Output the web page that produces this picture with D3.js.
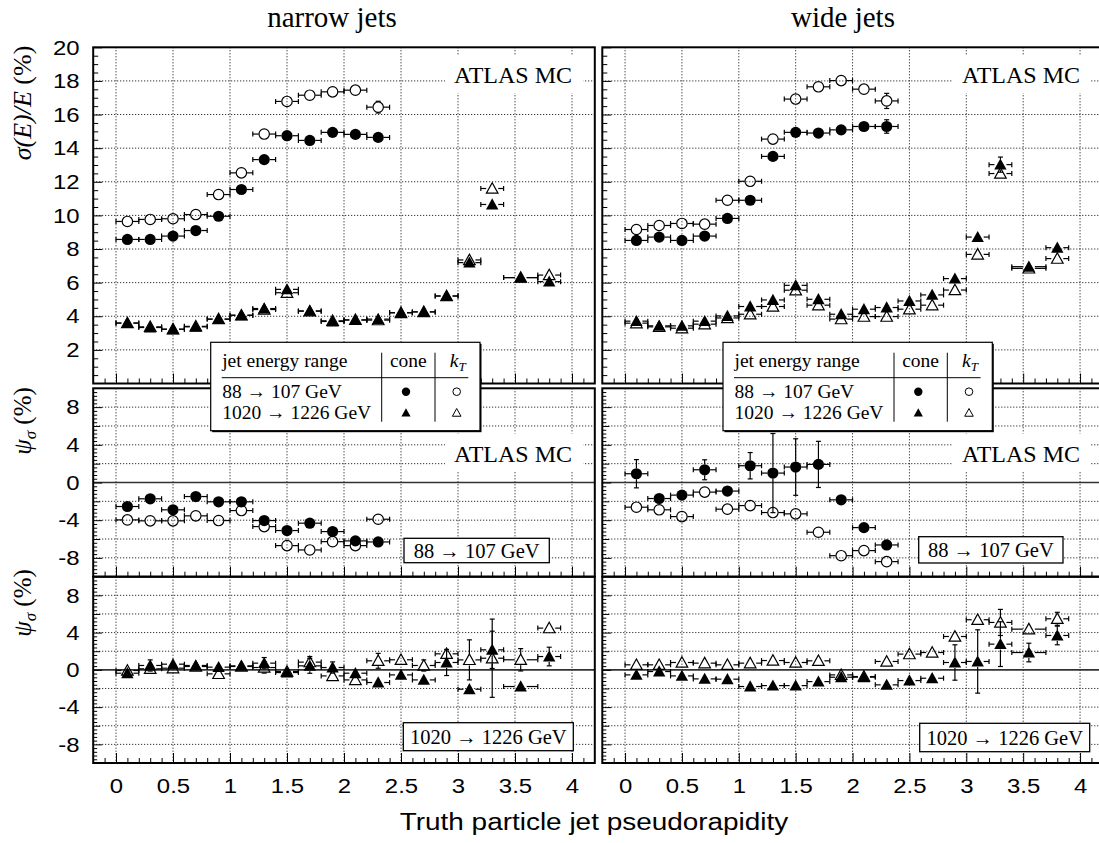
<!DOCTYPE html>
<html><head><meta charset="utf-8">
<script src="https://cdn.jsdelivr.net/npm/d3@7"></script>
<style>body{margin:0;background:#fff}svg{display:block}</style>
</head><body>
<svg id="c" width="1099" height="843"></svg>
<script>
// ---------------- DATA ----------------
const eta     = [0.1,0.3,0.5,0.7,0.9,1.1,1.3,1.5,1.7,1.9,2.1,2.3,2.5,2.7,2.9,3.1,3.3,3.55,3.8];
const etaHalf = [0.1,0.1,0.1,0.1,0.1,0.1,0.1,0.1,0.1,0.1,0.1,0.1,0.1,0.1,0.1,0.1,0.1,0.15,0.1];
const columnTitles = ["narrow jets","wide jets"];
const topTicks = [2,4,6,8,10,12,14,16,18,20];
const psiTicks = [-8,-4,0,4,8];
const xTicks = [0,0.5,1,1.5,2,2.5,3,3.5,4];

// resolution sigma(E)/E (%) : narrow jets
const narrowConeLow    = [8.57,8.57,8.77,9.10,9.95,11.54,13.32,14.74,14.46,14.94,14.82,14.64];
const narrowConeLowErr = [0.1,0.1,0.1,0.1,0.1,0.1,0.1,0.1,0.1,0.1,0.1,0.25];
const narrowKtLow      = [9.64,9.76,9.80,10.05,11.24,12.53,14.84,16.78,17.15,17.35,17.45,16.44];
const narrowKtLowErr   = [0.1,0.1,0.1,0.1,0.1,0.1,0.1,0.1,0.1,0.1,0.1,0.35];
const narrowConeHigh    = [3.59,3.33,3.23,3.37,3.83,4.06,4.46,5.60,4.32,3.69,3.77,3.83,4.22,4.26,5.21,7.19,10.65,6.30,6.06];
const narrowConeHighErr = [0.1,0.1,0.1,0.1,0.1,0.1,0.1,0.1,0.1,0.1,0.1,0.1,0.1,0.1,0.1,0.1,0.25,0.1,0.1];
const narrowKtHigh      = [3.60,3.37,3.23,3.40,3.83,4.06,4.40,5.40,4.30,3.73,3.79,3.77,4.20,4.26,5.20,7.35,11.60,6.30,6.45];
const narrowKtHighErr   = [0.1,0.1,0.1,0.1,0.1,0.1,0.1,0.1,0.1,0.1,0.1,0.1,0.1,0.1,0.1,0.1,0.3,0.1,0.1];

// resolution sigma(E)/E (%) : wide jets
const wideConeLow    = [8.51,8.71,8.51,8.77,9.82,10.90,13.51,14.94,14.90,15.09,15.29,15.29];
const wideConeLowErr = [0.1,0.1,0.1,0.1,0.1,0.1,0.1,0.1,0.1,0.1,0.15,0.4];
const wideKtLow      = [9.16,9.40,9.52,9.48,10.90,12.03,14.54,16.92,17.65,18.02,17.51,16.81];
const wideKtLowErr   = [0.1,0.1,0.1,0.1,0.1,0.1,0.1,0.15,0.1,0.2,0.1,0.45];
const wideConeHigh    = [3.71,3.43,3.43,3.71,4.02,4.58,4.97,5.84,5.01,4.12,4.42,4.52,4.91,5.27,6.24,8.71,13.02,6.95,8.08];
const wideConeHighErr = [0.1,0.1,0.1,0.1,0.1,0.1,0.1,0.1,0.1,0.1,0.1,0.1,0.1,0.1,0.1,0.1,0.45,0.1,0.1];
const wideKtHigh      = [3.59,3.37,3.29,3.53,3.90,4.12,4.58,5.55,4.66,3.83,3.98,3.98,4.42,4.66,5.56,7.68,12.49,6.85,7.43];
const wideKtHighErr   = [0.1,0.1,0.1,0.1,0.1,0.1,0.1,0.1,0.1,0.1,0.1,0.1,0.1,0.1,0.1,0.1,0.3,0.1,0.1];

// psi_sigma (%) 88 -> 107 GeV
const psiNarrowConeLow    = [-2.55,-1.73,-2.90,-1.49,-2.05,-2.05,-4.04,-5.10,-4.32,-5.21,-6.20,-6.31];
const psiNarrowConeLowErr = [0.2,0.2,0.2,0.2,0.2,0.2,0.2,0.2,0.2,0.2,0.2,0.2];
const psiNarrowKtLow      = [-3.97,-4.07,-4.07,-3.54,-4.04,-2.98,-4.68,-6.70,-7.16,-6.28,-6.70,-3.90];
const psiNarrowKtLowErr   = [0.2,0.2,0.2,0.2,0.2,0.2,0.2,0.2,0.2,0.2,0.2,0.2];
const psiWideConeLow      = [0.93,-1.70,-1.34,1.35,-0.91,1.78,1.00,1.64,1.92,-1.84,-4.79,-6.63];
const psiWideConeLowErr   = [1.5,0.3,0.3,1.06,0.3,1.4,4.2,3.0,2.45,0.3,0.3,0.3];
const psiWideKtLow        = [-2.62,-2.90,-3.62,-1.02,-2.83,-2.45,-3.19,-3.33,-5.28,-7.77,-7.23,-8.40];
const psiWideKtLowErr     = [0.2,0.2,0.2,0.2,0.2,0.2,0.2,0.2,0.2,0.2,0.2,0.2];

// psi_sigma (%) 1020 -> 1226 GeV
const psiNarrowConeHigh    = [-0.36,0.47,0.61,0.47,0.29,0.43,0.72,-0.29,0.43,0.25,-0.36,-1.36,-0.54,-1.08,0.79,-2.08,2.15,-1.79,1.43];
const psiNarrowConeHighErr = [0.3,0.6,0.4,0.3,0.4,0.3,0.6,0.3,0.8,0.6,0.4,0.3,0.4,0.3,1.4,0.4,2.0,0.4,1.0];
const psiNarrowKtHigh      = [-0.07,0.11,0.18,0.36,-0.43,0.36,0.25,-0.18,0.83,-0.65,-1.08,0.97,1.08,0.47,1.72,1.07,1.25,1.08,4.48];
const psiNarrowKtHighErr   = [0.3,0.3,0.4,0.3,0.3,0.3,0.6,0.3,0.6,0.4,0.3,0.8,0.3,0.6,0.5,2.15,4.2,1.2,0.3];
const psiWideConeHigh      = [-0.54,-0.18,-0.65,-0.97,-1.00,-1.79,-1.69,-1.69,-1.26,-0.79,-0.79,-1.61,-1.15,-0.90,0.79,0.90,2.76,1.86,3.69];
const psiWideConeHighErr   = [0.3,0.3,0.3,0.3,0.3,0.3,0.3,0.3,0.3,0.3,0.3,0.3,0.3,0.3,1.9,3.4,2.4,1.0,1.0];
const psiWideKtHigh        = [0.54,0.54,0.79,0.72,0.54,0.72,1.00,0.79,0.97,-0.54,-0.72,0.90,1.69,1.86,3.58,5.38,5.09,4.37,5.48];
const psiWideKtHighErr     = [0.3,0.3,0.3,0.3,0.3,0.3,0.3,0.5,0.4,0.3,0.3,0.3,0.4,0.3,0.3,0.3,1.4,0.3,0.7];

const legendRows = ["88 \u2192 107 GeV","1020 \u2192 1226 GeV"];
const rangeLabels = ["88 \u2192 107 GeV","1020 \u2192 1226 GeV"];

// ---------------- LAYOUT ----------------
const SANS = "'Liberation Sans', Arial, sans-serif";
const SERIF = "'Liberation Serif', 'Times New Roman', serif";
const SX = 1.14; // horizontal stretch of sans labels
const svg = d3.select('#c');
svg.append('rect').attr('width',1099).attr('height',843).attr('fill','#fff');

const cols = [{x0:93.2, x1:594.8}, {x0:602.3, x1:1102.8}];
const rows = {
  top:{y0:47.3, y1:383.5, dom:[0,20]},
  mid:{y0:388.3, y1:576.7, dom:[-10,10]},
  bot:{y0:576.7, y1:763, dom:[-10,10]}
};

function errSeries(g, x, y, xs, hs, vals, errs, shape, filled) {
  const gap = shape === 'circle' ? 5.5 : 6;
  const gapV = 5.5;
  const cap = 2.5;
  const eg = g.append('g').attr('stroke','#000').attr('stroke-width',1.2).attr('fill','none');
  vals.forEach((v,i) => {
    const cx = x(xs[i]), cy = y(v);
    const a = x(xs[i]-hs[i]), b = x(xs[i]+hs[i]);
    if (cx-gap > a) eg.append('line').attr('x1',a).attr('x2',cx-gap).attr('y1',cy).attr('y2',cy);
    if (cx+gap < b) eg.append('line').attr('x1',cx+gap).attr('x2',b).attr('y1',cy).attr('y2',cy);
    eg.append('line').attr('x1',a).attr('x2',a).attr('y1',cy-cap).attr('y2',cy+cap);
    eg.append('line').attr('x1',b).attr('x2',b).attr('y1',cy-cap).attr('y2',cy+cap);
    const e = errs[i];
    const t = y(v+e), bt = y(v-e);
    if (cy - t > gapV) {
      eg.append('line').attr('x1',cx).attr('x2',cx).attr('y1',t).attr('y2',cy-gapV);
      eg.append('line').attr('x1',cx).attr('x2',cx).attr('y1',cy+gapV).attr('y2',bt);
      eg.append('line').attr('x1',cx-cap).attr('x2',cx+cap).attr('y1',t).attr('y2',t);
      eg.append('line').attr('x1',cx-cap).attr('x2',cx+cap).attr('y1',bt).attr('y2',bt);
    }
  });
  const mg = g.append('g');
  vals.forEach((v,i) => {
    const cx = x(xs[i]), cy = y(v);
    if (shape === 'circle') {
      mg.append('circle').attr('cx',cx).attr('cy',cy).attr('r', filled?5.6:5.2)
        .attr('fill', filled?'#000':'none').attr('stroke','#000').attr('stroke-width', filled?0:1.2);
    } else {
      mg.append('path').attr('d', triPath(cx, cy, filled?6.2:5.8))
        .attr('fill', filled?'#000':'none').attr('stroke','#000').attr('stroke-width', filled?0:1.2);
    }
  });
}
function triPath(cx, cy, s) {
  return `M${cx},${cy-s} L${cx+s},${cy+s*0.8} L${cx-s},${cy+s*0.8} Z`;
}

function drawPad(ci, rowKey, showXLabels) {
  const col = cols[ci], row = rows[rowKey];
  const x = d3.scaleLinear().domain([-0.2,4.2]).range([col.x0,col.x1]);
  const y = d3.scaleLinear().domain(row.dom).range([row.y1,row.y0]);
  const g = svg.append('g');
  const isTop = rowKey === 'top';
  // grid
  const gridY = isTop ? [2,4,6,8,10,12,14,16,18] : [-8,-6,-4,-2,2,4,6,8];
  g.append('g').selectAll('line').data(xTicks).join('line')
    .attr('x1',d=>x(d)).attr('x2',d=>x(d)).attr('y1',row.y0).attr('y2',row.y1)
    .attr('stroke','#000').attr('stroke-width',1).attr('stroke-dasharray','1,2');
  g.append('g').selectAll('line').data(gridY).join('line')
    .attr('x1',col.x0).attr('x2',col.x1).attr('y1',d=>y(d)).attr('y2',d=>y(d))
    .attr('stroke','#000').attr('stroke-width',1).attr('stroke-dasharray','1,2');
  if (!isTop) {
    g.append('line').attr('x1',col.x0).attr('x2',col.x1).attr('y1',y(0)).attr('y2',y(0))
      .attr('stroke','#333').attr('stroke-width',1.6);
  }
  // x axis ticks (inward)
  const xMinor = d3.range(-1,42).map(i=>i/10).filter(v => Math.round(v*10)%5 !== 0);
  const ax = g.append('g').attr('transform',`translate(0,${row.y1})`)
    .call(d3.axisBottom(x).tickValues(xTicks).tickSizeInner(-10).tickSizeOuter(0).tickPadding(15)
      .tickFormat(showXLabels ? (d=>String(d)) : ''));
  ax.select('.domain').remove();
  ax.attr('font-family',SANS).attr('font-size',21);
  ax.selectAll('.tick text').attr('transform',`scale(${SX},1)`).attr('fill','#000');
  const axm = g.append('g').attr('transform',`translate(0,${row.y1})`)
    .call(d3.axisBottom(x).tickValues(xMinor).tickSizeInner(-5).tickSizeOuter(0).tickFormat(''));
  axm.select('.domain').remove();
  // y axis ticks
  let major, minor;
  if (isTop) {
    major = topTicks;
    minor = d3.range(1,40).map(i=>i/2).filter(v => v%2 !== 0);
  } else {
    major = psiTicks;
    minor = d3.range(-25,26).filter(i => i%5 !== 0).map(i=>i*0.4);
    const med = [-6,-2,2,6];
    const aym = g.append('g').attr('transform',`translate(${col.x0},0)`)
      .call(d3.axisLeft(y).tickValues(med).tickSizeInner(-7).tickSizeOuter(0).tickFormat(''));
    aym.select('.domain').remove();
  }
  const ay = g.append('g').attr('transform',`translate(${col.x0},0)`)
    .call(d3.axisLeft(y).tickValues(major).tickSizeInner(-9).tickSizeOuter(0).tickPadding(12)
      .tickFormat(ci===0 ? (d=>String(d)) : ''));
  ay.select('.domain').remove();
  ay.attr('font-family',SANS).attr('font-size',21);
  ay.selectAll('.tick text').attr('transform',`scale(${SX},1)`).attr('fill','#000');
  const ayn = g.append('g').attr('transform',`translate(${col.x0},0)`)
    .call(d3.axisLeft(y).tickValues(minor).tickSizeInner(isTop?-5:-4).tickSizeOuter(0).tickFormat(''));
  ayn.select('.domain').remove();
  return {g, x, y, col, row};
}

function atlasLabel(p, baseline) {
  const t = p.g.append('text').attr('x',p.x(4)).attr('y',baseline).attr('text-anchor','end')
    .attr('font-family',SERIF).attr('font-size',24).attr('fill','#000').text('ATLAS MC');
  const w = t.node().getComputedTextLength();
  p.g.insert('rect', () => t.node()).attr('x',p.x(4)-w-9).attr('y',baseline-28).attr('width',w+20).attr('height',38).attr('fill','#fff');
}
function rangeBox(p, bx, by, bw, bh, label) {
  p.g.append('rect').attr('x',bx).attr('y',by).attr('width',bw).attr('height',bh)
    .attr('fill','#fff').attr('stroke','#000').attr('stroke-width',1.3);
  p.g.append('text').attr('x',bx+bw/2).attr('y',by+bh/2+7).attr('text-anchor','middle')
    .attr('font-family',SERIF).attr('font-size',20.5).attr('fill','#000').text(label);
}
function frame(p) {
  p.g.append('rect').attr('x',p.col.x0).attr('y',p.row.y0).attr('width',p.col.x1-p.col.x0).attr('height',p.row.y1-p.row.y0)
    .attr('fill','none').attr('stroke','#000').attr('stroke-width',2);
}

const etaLow = eta.slice(0,12), halfLow = etaHalf.slice(0,12);

// --- top pads
const tl = drawPad(0,'top',false);
atlasLabel(tl, 83);
errSeries(tl.g, tl.x, tl.y, eta, etaHalf, narrowConeHigh, narrowConeHighErr, 'tri', true);
errSeries(tl.g, tl.x, tl.y, eta, etaHalf, narrowKtHigh, narrowKtHighErr, 'tri', false);
errSeries(tl.g, tl.x, tl.y, etaLow, halfLow, narrowConeLow, narrowConeLowErr, 'circle', true);
errSeries(tl.g, tl.x, tl.y, etaLow, halfLow, narrowKtLow, narrowKtLowErr, 'circle', false);
frame(tl);

const tr = drawPad(1,'top',false);
atlasLabel(tr, 83);
errSeries(tr.g, tr.x, tr.y, eta, etaHalf, wideKtHigh, wideKtHighErr, 'tri', false);
errSeries(tr.g, tr.x, tr.y, eta, etaHalf, wideConeHigh, wideConeHighErr, 'tri', true);
errSeries(tr.g, tr.x, tr.y, etaLow, halfLow, wideConeLow, wideConeLowErr, 'circle', true);
errSeries(tr.g, tr.x, tr.y, etaLow, halfLow, wideKtLow, wideKtLowErr, 'circle', false);
frame(tr);

// --- middle pads
const ml = drawPad(0,'mid',false);
atlasLabel(ml, 461.5);
rangeBox(ml, 404, 538.3, 145.3, 24.4, rangeLabels[0]);
errSeries(ml.g, ml.x, ml.y, etaLow, halfLow, psiNarrowKtLow, psiNarrowKtLowErr, 'circle', false);
errSeries(ml.g, ml.x, ml.y, etaLow, halfLow, psiNarrowConeLow, psiNarrowConeLowErr, 'circle', true);
frame(ml);

const mr = drawPad(1,'mid',false);
atlasLabel(mr, 461.5);
rangeBox(mr, 918.7, 536.7, 144.3, 26.3, rangeLabels[0]);
errSeries(mr.g, mr.x, mr.y, etaLow, halfLow, psiWideKtLow, psiWideKtLowErr, 'circle', false);
errSeries(mr.g, mr.x, mr.y, etaLow, halfLow, psiWideConeLow, psiWideConeLowErr, 'circle', true);
frame(mr);

// --- bottom pads
const bl = drawPad(0,'bot',true);
rangeBox(bl, 403.3, 722.7, 170, 28, rangeLabels[1]);
errSeries(bl.g, bl.x, bl.y, eta, etaHalf, psiNarrowKtHigh, psiNarrowKtHighErr, 'tri', false);
errSeries(bl.g, bl.x, bl.y, eta, etaHalf, psiNarrowConeHigh, psiNarrowConeHighErr, 'tri', true);
frame(bl);

const br = drawPad(1,'bot',true);
rangeBox(br, 919.7, 723.3, 170, 28.4, rangeLabels[1]);
errSeries(br.g, br.x, br.y, eta, etaHalf, psiWideKtHigh, psiWideKtHighErr, 'tri', false);
errSeries(br.g, br.x, br.y, eta, etaHalf, psiWideConeHigh, psiWideConeHighErr, 'tri', true);
frame(br);

// --- legends
function legend(x0) {
  const g = svg.append('g');
  const top = 342.3, w = 269.3, h = 88.4;
  g.append('rect').attr('x',x0+1.5).attr('y',top+1.5).attr('width',w).attr('height',h).attr('fill','#000');
  g.append('rect').attr('x',x0).attr('y',top).attr('width',w).attr('height',h)
    .attr('fill','#fff').attr('stroke','#000').attr('stroke-width',1.2);
  const txt = (xx,yy,s,anchor) => g.append('text').attr('x',xx).attr('y',yy).attr('text-anchor',anchor||'start')
    .attr('font-family',SERIF).attr('font-size',19.5).attr('fill','#000').text(s);
  txt(x0+11.5, 366.5, 'jet energy range');
  txt(x0+197.6, 366.5, 'cone', 'middle');
  const kt = g.append('text').attr('x',x0+247).attr('y',366.5).attr('text-anchor','middle')
    .attr('font-family',SERIF).attr('font-size',19.5).attr('fill','#000');
  kt.append('tspan').attr('font-style','italic').text('k');
  kt.append('tspan').attr('font-style','italic').attr('font-size',13).attr('dy',4).text('T');
  g.append('line').attr('x1',x0+11).attr('x2',x0+257.6).attr('y1',377.7).attr('y2',377.7).attr('stroke','#000').attr('stroke-width',1);
  [171, 224.3].forEach(dx => g.append('line').attr('x1',x0+dx).attr('x2',x0+dx).attr('y1',352.7).attr('y2',421.7).attr('stroke','#000').attr('stroke-width',1));
  txt(x0+11.5, 398.3, legendRows[0]);
  txt(x0+11.5, 418.7, legendRows[1]);
  g.append('circle').attr('cx',x0+195.3).attr('cy',391.7).attr('r',4.2).attr('fill','#000');
  g.append('circle').attr('cx',x0+246).attr('cy',391.7).attr('r',3.8).attr('fill','none').attr('stroke','#000').attr('stroke-width',1);
  g.append('path').attr('d',triPath(x0+195.3,412.8,4.6)).attr('fill','#000');
  g.append('path').attr('d',triPath(x0+246,412.8,4.3)).attr('fill','none').attr('stroke','#000').attr('stroke-width',1);
}
legend(210.7);
legend(723);

// --- titles
const titleX = [332, 843];
columnTitles.forEach((t,i) => svg.append('text').attr('x',titleX[i]).attr('y',27).attr('text-anchor','middle')
  .attr('font-family',SERIF).attr('font-size',29).attr('fill','#000').text(t));

svg.append('text').attr('transform',`translate(594,830) scale(${SX},1)`).attr('text-anchor','middle')
  .attr('font-family',SANS).attr('font-size',24.5).attr('fill','#000').text('Truth particle jet pseudorapidity');

// y titles
const yt = svg.append('text').attr('transform','translate(31,103) rotate(-90)').attr('text-anchor','middle')
  .attr('font-family',SERIF).attr('font-size',26).attr('fill','#000');
yt.append('tspan').attr('font-style','italic').text('\u03C3(E)/E');
yt.append('tspan').text(' (%)');

[421, 603].forEach(cy => {
  const t = svg.append('text').attr('transform',`translate(31,${cy}) rotate(-90)`).attr('text-anchor','middle')
    .attr('font-family',SERIF).attr('font-size',25).attr('fill','#000');
  t.append('tspan').attr('font-style','italic').text('\u03C8');
  t.append('tspan').attr('font-style','italic').attr('font-size',17).attr('dy',5).text('\u03C3');
  t.append('tspan').attr('dy',-5).text(' (%)');
});
</script>
</body></html>
